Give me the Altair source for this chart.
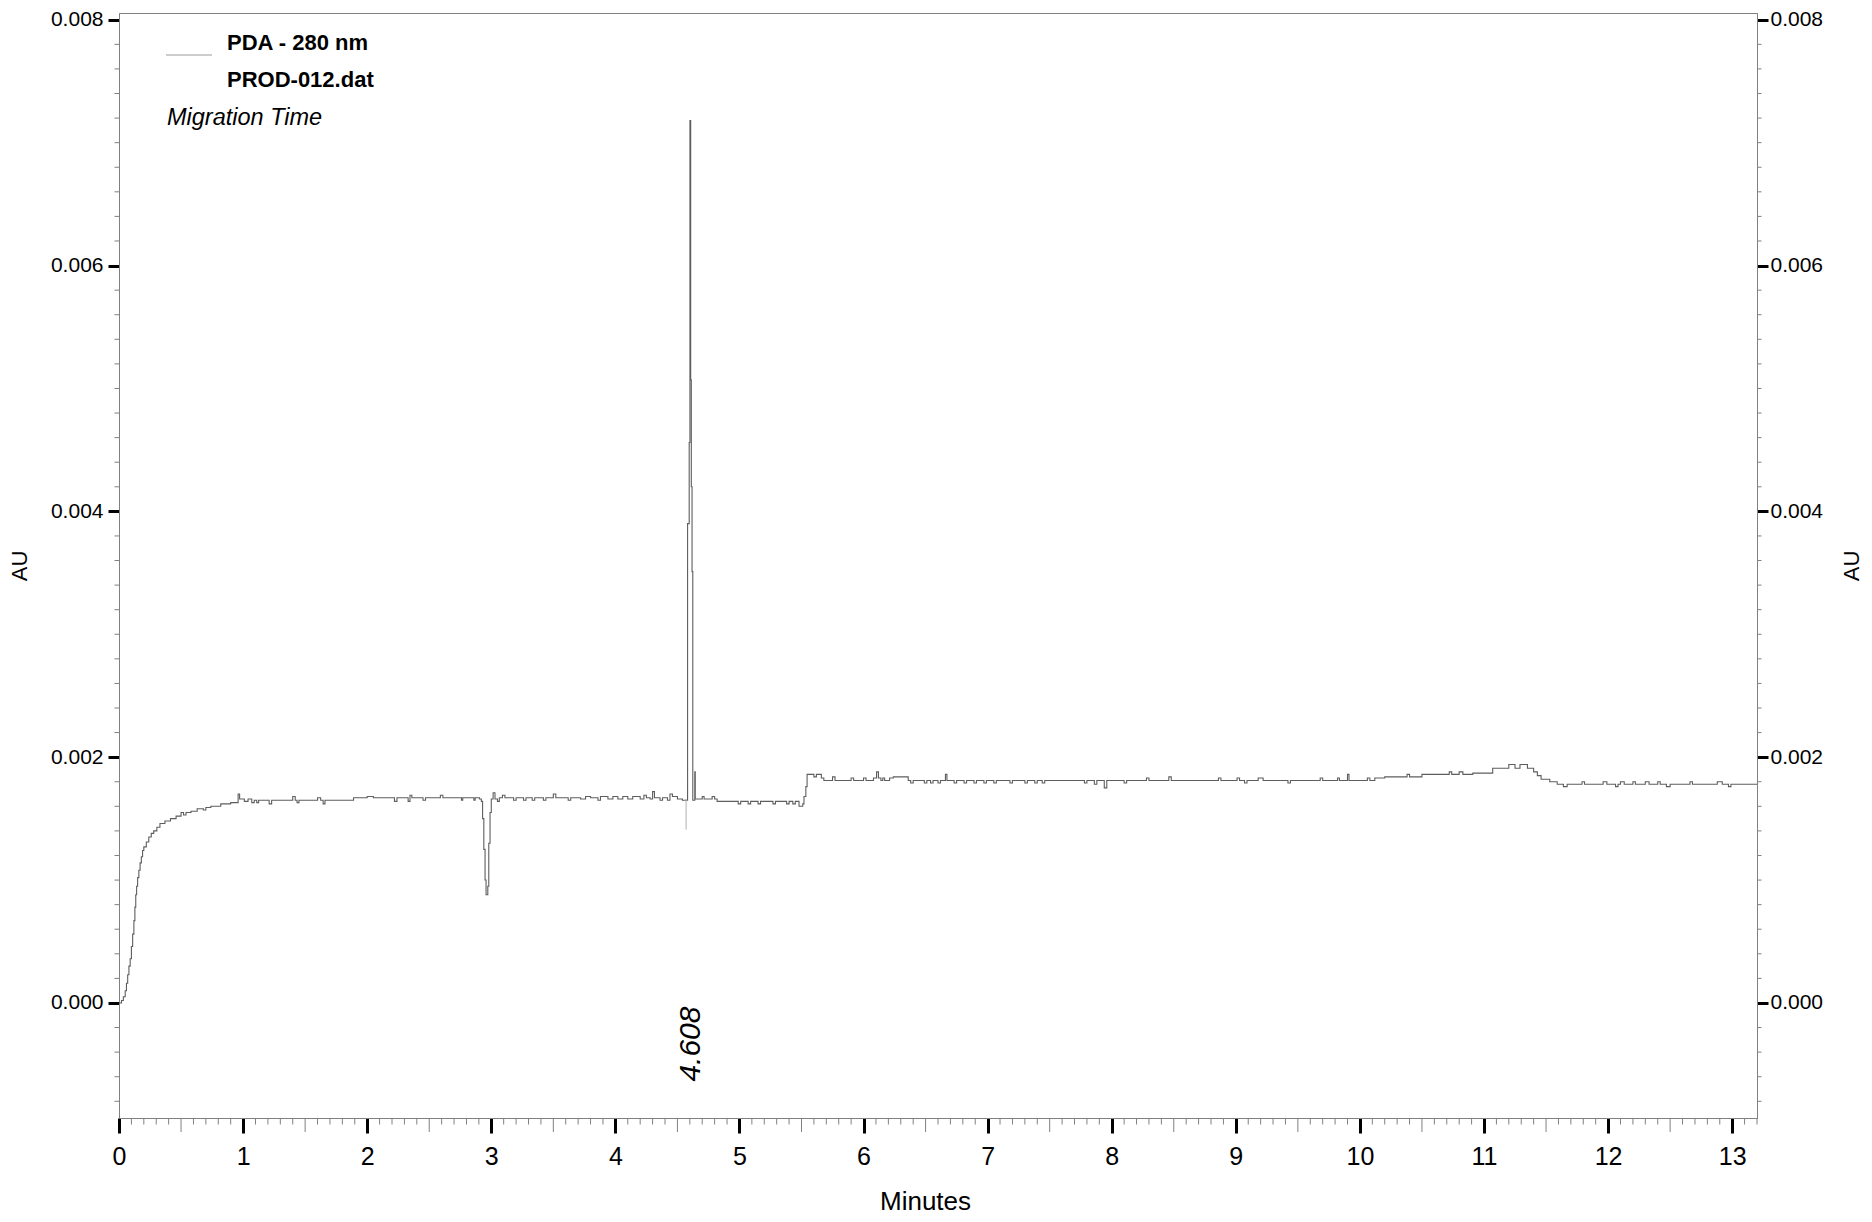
import altair as alt
import pandas as pd

# ---------------- data ----------------
rise = [
    (0.000, 0.00000), (0.020, 0.00002), (0.035, 0.00005), (0.050, 0.00010), (0.060, 0.00016),
    (0.070, 0.00023), (0.080, 0.00030), (0.090, 0.00036), (0.100, 0.00046), (0.110, 0.00056),
    (0.120, 0.00067), (0.128, 0.00078), (0.135, 0.00088), (0.142, 0.00095), (0.150, 0.00102),
    (0.160, 0.00108), (0.170, 0.00114), (0.180, 0.00119), (0.190, 0.00124), (0.200, 0.00127),
    (0.220, 0.00131), (0.240, 0.00135), (0.260, 0.00138), (0.280, 0.00140), (0.305, 0.00143),
    (0.330, 0.00146), (0.370, 0.00148), (0.415, 0.00150), (0.460, 0.00152), (0.500, 0.00155),
    (0.520, 0.00153), (0.540, 0.00155), (0.580, 0.00156), (0.630, 0.00158), (0.680, 0.00157),
    (0.700, 0.00159), (0.740, 0.00160), (0.820, 0.00162), (0.900, 0.00163),
]
plateau_1 = [
    (0.960, 0.00170), (0.972, 0.00166), (1.010, 0.00164), (1.040, 0.00166), (1.070, 0.00163),
    (1.090, 0.00165), (1.110, 0.00163), (1.125, 0.00165), (1.210, 0.00162), (1.230, 0.00165),
    (1.400, 0.00168), (1.420, 0.00165), (1.435, 0.00163), (1.450, 0.00165), (1.600, 0.00167),
    (1.625, 0.00165), (1.645, 0.00162), (1.660, 0.00165), (1.890, 0.00167), (2.000, 0.00168),
    (2.050, 0.00167), (2.220, 0.00164), (2.240, 0.00167), (2.330, 0.00164), (2.345, 0.00169),
    (2.360, 0.00167), (2.450, 0.00165), (2.470, 0.00167), (2.590, 0.00169), (2.610, 0.00167),
    (2.760, 0.00165), (2.770, 0.00167), (2.860, 0.00165), (2.870, 0.00167), (2.905, 0.00166),
]
dip_3min = [
    (2.920, 0.00164), (2.930, 0.00150), (2.940, 0.00125), (2.950, 0.00100), (2.958, 0.00088),
    (2.972, 0.00095), (2.980, 0.00130), (2.990, 0.00155), (3.000, 0.00166), (3.015, 0.00171),
    (3.030, 0.00166),
]
plateau_2 = [
    (3.050, 0.00164), (3.065, 0.00167), (3.090, 0.00169), (3.110, 0.00167), (3.180, 0.00165),
    (3.200, 0.00167), (3.260, 0.00165), (3.280, 0.00167), (3.330, 0.00165), (3.350, 0.00167),
    (3.420, 0.00165), (3.440, 0.00167), (3.500, 0.00170), (3.520, 0.00167), (3.620, 0.00165),
    (3.640, 0.00167), (3.720, 0.00166), (3.760, 0.00168), (3.800, 0.00167), (3.860, 0.00165),
    (3.880, 0.00168), (3.940, 0.00166), (3.980, 0.00168), (4.020, 0.00166), (4.060, 0.00168),
    (4.100, 0.00166), (4.140, 0.00168), (4.200, 0.00166), (4.230, 0.00169), (4.250, 0.00167),
    (4.280, 0.00166), (4.300, 0.00172), (4.315, 0.00167), (4.360, 0.00165), (4.380, 0.00167),
    (4.420, 0.00165), (4.440, 0.00170), (4.460, 0.00168), (4.500, 0.00166), (4.540, 0.00165),
]
peak_4608 = [
    (4.582, 0.00390), (4.595, 0.00456), (4.601, 0.00718), (4.607, 0.00507), (4.612, 0.00420),
    (4.618, 0.00351), (4.624, 0.00165), (4.640, 0.00188), (4.644, 0.00166),
]
plateau_3 = [
    (4.700, 0.00168), (4.715, 0.00166), (4.780, 0.00168), (4.800, 0.00166), (4.820, 0.00164),
    (4.990, 0.00162), (5.010, 0.00164), (5.070, 0.00162), (5.090, 0.00164), (5.150, 0.00162),
    (5.170, 0.00164), (5.270, 0.00162), (5.290, 0.00164), (5.380, 0.00162), (5.400, 0.00164),
    (5.430, 0.00162), (5.450, 0.00164), (5.480, 0.00160), (5.510, 0.00162),
]
step_55 = [
    (5.520, 0.00168), (5.535, 0.00176), (5.545, 0.00186), (5.600, 0.00184), (5.620, 0.00186),
    (5.660, 0.00183), (5.680, 0.00181),
]
plateau_4 = [
    (5.750, 0.00184), (5.770, 0.00181), (5.900, 0.00183), (5.920, 0.00181), (6.000, 0.00183),
    (6.020, 0.00181), (6.080, 0.00183), (6.105, 0.00188), (6.120, 0.00183), (6.140, 0.00181),
    (6.155, 0.00183), (6.170, 0.00181), (6.210, 0.00183), (6.240, 0.00184), (6.360, 0.00181),
    (6.380, 0.00179), (6.400, 0.00181), (6.490, 0.00179), (6.510, 0.00181), (6.540, 0.00179),
    (6.560, 0.00181), (6.600, 0.00179), (6.620, 0.00181), (6.660, 0.00186), (6.672, 0.00181),
    (6.730, 0.00179), (6.750, 0.00181), (6.810, 0.00179), (6.830, 0.00181), (6.890, 0.00179),
    (6.910, 0.00181), (6.970, 0.00179), (6.990, 0.00181), (7.050, 0.00179), (7.070, 0.00181),
    (7.180, 0.00179), (7.200, 0.00181), (7.300, 0.00179), (7.320, 0.00181), (7.380, 0.00179),
    (7.400, 0.00181), (7.440, 0.00179), (7.460, 0.00181), (7.780, 0.00179), (7.800, 0.00181),
    (7.860, 0.00178), (7.880, 0.00181), (7.940, 0.00175), (7.960, 0.00181), (8.100, 0.00179),
    (8.120, 0.00181), (8.280, 0.00183), (8.300, 0.00181), (8.460, 0.00184), (8.480, 0.00181),
    (8.860, 0.00183), (8.880, 0.00181), (9.010, 0.00183), (9.030, 0.00181), (9.070, 0.00179),
    (9.090, 0.00181), (9.180, 0.00183), (9.220, 0.00181), (9.420, 0.00179), (9.440, 0.00181),
    (9.680, 0.00183), (9.700, 0.00181), (9.820, 0.00183), (9.835, 0.00181), (9.900, 0.00186),
    (9.912, 0.00181), (10.060, 0.00183), (10.080, 0.00181), (10.120, 0.00183),
]
hump_113 = [
    (10.200, 0.00184), (10.380, 0.00186), (10.400, 0.00184), (10.500, 0.00186), (10.590, 0.00186),
    (10.720, 0.00188), (10.740, 0.00186), (10.800, 0.00188), (10.830, 0.00186), (10.910, 0.00187),
    (11.070, 0.00191), (11.200, 0.00194), (11.250, 0.00191), (11.290, 0.00194), (11.350, 0.00191),
    (11.400, 0.00188), (11.430, 0.00185), (11.460, 0.00182), (11.530, 0.00180), (11.590, 0.00178),
]
plateau_5 = [
    (11.640, 0.00176), (11.670, 0.00178), (11.790, 0.00180), (11.810, 0.00178), (11.960, 0.00180),
    (11.990, 0.00178), (12.060, 0.00176), (12.080, 0.00178), (12.100, 0.00180), (12.130, 0.00178),
    (12.200, 0.00180), (12.220, 0.00178), (12.300, 0.00180), (12.330, 0.00178), (12.400, 0.00180),
    (12.420, 0.00178), (12.470, 0.00176), (12.500, 0.00178), (12.660, 0.00180), (12.680, 0.00178),
    (12.880, 0.00180), (12.920, 0.00178), (12.970, 0.00176), (12.990, 0.00178), (13.200, 0.00178),
]

# injection/probe mark just before the peak (light grey stroke)
probe_minutes = [4.570]
probe_au_low = [0.00141]
probe_au_high = [0.00166]

# peak annotation
peak_minutes = [4.608]
peak_labels = ["4.608"]
peak_label_au = [-0.00064]

legend_lines = ["PDA - 280 nm", "PROD-012.dat"]
legend_note = ["Migration Time"]

# axes
x_domain = [0, 13.2]
y_domain = [-0.000936, 0.008055]
x_major = list(range(0, 14))
x_half = [i + 0.5 for i in range(13)]
x_minor = [round(i / 10, 1) for i in range(0, 133) if i % 5 != 0]
y_major = [0.0, 0.002, 0.004, 0.006, 0.008]
y_minor = [round(i * 0.0002, 4) for i in range(-4, 41) if i % 10 != 0]

# ---------------- chart ----------------
W, H = 1638, 1105
REG = "Liberation Sans, Arial, sans-serif"
GREY = "#808080"

trace = pd.DataFrame(
    rise + plateau_1 + dip_3min + plateau_2 + peak_4608 + plateau_3 + step_55
    + plateau_4 + hump_113 + plateau_5,
    columns=["minutes", "au"],
)

xs = alt.Scale(domain=x_domain, nice=False, zero=False)
ys = alt.Scale(domain=y_domain, nice=False, zero=False)

line = alt.Chart(trace).mark_line(
    interpolate="step-after", color="#5e5e5e", strokeWidth=1.1
).encode(
    x=alt.X("minutes:Q", scale=xs, axis=alt.Axis(
        orient="bottom", values=x_major, format="d", title="Minutes",
        tickSize=15, tickWidth=3, tickColor="black",
        labelFont=REG, labelFontSize=25, labelPadding=11, labelColor="black",
        titleFont=REG, titleFontSize=26, titleFontWeight="normal", titleColor="black",
        titlePadding=19, titleX=806, labelFlush=False, domainColor=GREY,
    )),
    y=alt.Y("au:Q", scale=ys, axis=alt.Axis(
        orient="left", values=y_major, format=".3f", title="AU",
        tickSize=11, tickWidth=3, tickColor="black",
        labelFont=REG, labelFontSize=21, labelPadding=5, labelColor="black",
        titleFont=REG, titleFontSize=22, titleFontWeight="normal", titleColor="black",
        titlePadding=19, labelFlush=False, domainColor=GREY,
    )),
)

y_minor_df = pd.DataFrame({"v": y_minor})
y_major_df = pd.DataFrame({"v": y_major})

left_minor = alt.Chart(y_minor_df).mark_rule(color=GREY, strokeWidth=1).encode(
    y=alt.Y("v:Q", scale=ys, axis=None), x=alt.value(0), x2=alt.value(-4.5)
)
right_minor = alt.Chart(y_minor_df).mark_rule(color=GREY, strokeWidth=1).encode(
    y=alt.Y("v:Q", scale=ys, axis=None), x=alt.value(W), x2=alt.value(W + 4.5)
)
right_axis = alt.Chart(y_major_df).mark_rule(opacity=0).encode(
    y=alt.Y("v:Q", scale=ys, axis=alt.Axis(
        orient="right", values=y_major, format=".3f", title="AU",
        tickSize=11, tickWidth=3, tickColor="black",
        labelFont=REG, labelFontSize=21, labelPadding=2, labelColor="black",
        titleFont=REG, titleFontSize=22, titleFontWeight="normal", titleColor="black",
        titlePadding=19, titleAngle=270, titleBaseline="top", labelFlush=False,
        domainColor=GREY,
    )),
    x=alt.value(W), x2=alt.value(W),
)

x_minor_df = pd.DataFrame({"t": x_minor})
x_half_df = pd.DataFrame({"t": x_half})
bottom_minor = alt.Chart(x_minor_df).mark_rule(color=GREY, strokeWidth=1).encode(
    x=alt.X("t:Q", scale=xs, axis=None), y=alt.value(H), y2=alt.value(H + 6.5)
)
bottom_half = alt.Chart(x_half_df).mark_rule(color=GREY, strokeWidth=1).encode(
    x=alt.X("t:Q", scale=xs, axis=None), y=alt.value(H), y2=alt.value(H + 14)
)

probe = alt.Chart(pd.DataFrame({
    "t": probe_minutes, "lo": probe_au_low, "hi": probe_au_high
})).mark_rule(color="#b0b0b0", strokeWidth=1).encode(
    x=alt.X("t:Q", scale=xs, axis=None),
    y=alt.Y("lo:Q", scale=ys, axis=None), y2="hi:Q",
)

peak_text = alt.Chart(pd.DataFrame({
    "t": peak_minutes, "au": peak_label_au, "label": peak_labels
})).mark_text(
    angle=270, align="left", baseline="middle", font=REG, fontSize=30,
    fontStyle="italic", color="black",
).encode(
    x=alt.X("t:Q", scale=xs, axis=None),
    y=alt.Y("au:Q", scale=ys, axis=None),
    text="label:N",
)

legend_sample = alt.Chart(pd.DataFrame({"label": legend_lines[:1]})).mark_rule(
    color="#9a9a9a", strokeWidth=1
).encode(x=alt.value(47), x2=alt.value(93), y=alt.value(42))

legend_t1 = alt.Chart(pd.DataFrame({"label": legend_lines[:1]})).mark_text(
    align="left", baseline="alphabetic", font=REG, fontSize=22, fontWeight="bold", color="black"
).encode(x=alt.value(108), y=alt.value(37), text="label:N")
legend_t2 = alt.Chart(pd.DataFrame({"label": legend_lines[1:2]})).mark_text(
    align="left", baseline="alphabetic", font=REG, fontSize=22, fontWeight="bold", color="black"
).encode(x=alt.value(108), y=alt.value(73.5), text="label:N")
legend_t3 = alt.Chart(pd.DataFrame({"label": legend_note})).mark_text(
    align="left", baseline="alphabetic", font=REG, fontSize=23.5, fontStyle="italic", color="black"
).encode(x=alt.value(48), y=alt.value(112), text="label:N")

chart = alt.layer(
    line, left_minor, right_minor, bottom_minor, bottom_half, probe, peak_text,
    legend_sample, legend_t1, legend_t2, legend_t3, right_axis,
).resolve_scale(
    x="shared", y="shared"
).resolve_axis(
    x="independent", y="independent"
).properties(
    width=W, height=H,
    padding={"left": 111, "top": 5, "right": 107, "bottom": 96},
    autosize=alt.AutoSizeParams(type="none"),
).configure_view(
    stroke=GREY, strokeWidth=1
).configure_axis(
    grid=False, domainColor=GREY, domainWidth=1
)

chart.save("out.html", embed_options={"renderer": "svg", "actions": False})
